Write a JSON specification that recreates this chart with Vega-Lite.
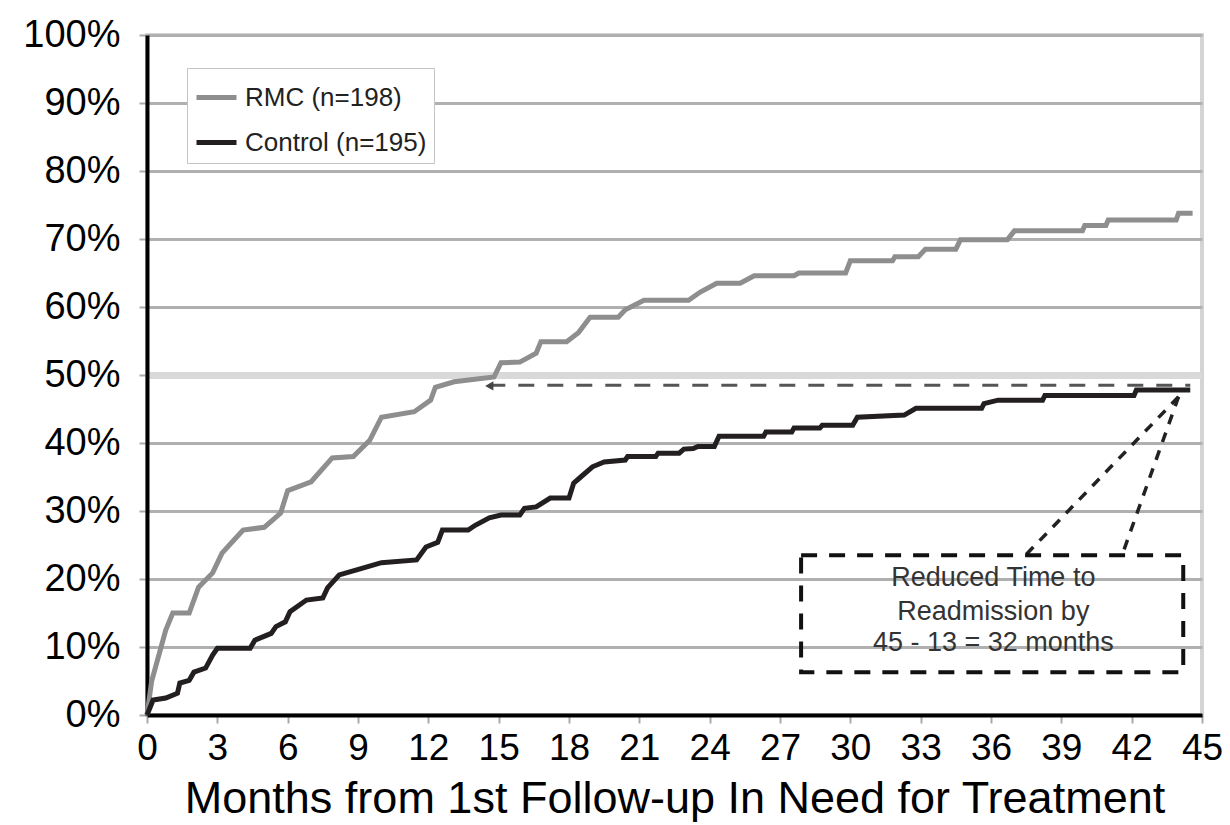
{
  "$schema": "https://vega.github.io/schema/vega-lite/v6.json",
  "width": 1055,
  "height": 680,
  "autosize": {"type": "none"},
  "padding": {"left": 147, "top": 35, "right": 28, "bottom": 110},
  "background": "white",
  "config": {
    "font": "Liberation Sans",
    "view": {"stroke": "#d4d4d4", "strokeWidth": 4}
  },
  "layer": [
    {
      "data": {"values": [
        {"group": "RMC (n=198)", "month": 0, "pct": 0},
        {"group": "RMC (n=198)", "month": 0.2, "pct": 5},
        {"group": "RMC (n=198)", "month": 0.8, "pct": 12.5},
        {"group": "RMC (n=198)", "month": 1.1, "pct": 15},
        {"group": "RMC (n=198)", "month": 1.8, "pct": 15},
        {"group": "RMC (n=198)", "month": 2.2, "pct": 18.8},
        {"group": "RMC (n=198)", "month": 2.8, "pct": 20.9},
        {"group": "RMC (n=198)", "month": 3.2, "pct": 23.8},
        {"group": "RMC (n=198)", "month": 3.7, "pct": 25.7},
        {"group": "RMC (n=198)", "month": 4.1, "pct": 27.2},
        {"group": "RMC (n=198)", "month": 5.0, "pct": 27.6},
        {"group": "RMC (n=198)", "month": 5.7, "pct": 29.7},
        {"group": "RMC (n=198)", "month": 6.0, "pct": 33},
        {"group": "RMC (n=198)", "month": 7.0, "pct": 34.3},
        {"group": "RMC (n=198)", "month": 7.9, "pct": 37.8},
        {"group": "RMC (n=198)", "month": 8.8, "pct": 38},
        {"group": "RMC (n=198)", "month": 9.5, "pct": 40.4},
        {"group": "RMC (n=198)", "month": 10.0, "pct": 43.8},
        {"group": "RMC (n=198)", "month": 11.4, "pct": 44.6},
        {"group": "RMC (n=198)", "month": 12.1, "pct": 46.3},
        {"group": "RMC (n=198)", "month": 12.3, "pct": 48.2},
        {"group": "RMC (n=198)", "month": 13.1, "pct": 49},
        {"group": "RMC (n=198)", "month": 14.8, "pct": 49.7},
        {"group": "RMC (n=198)", "month": 15.1, "pct": 51.8},
        {"group": "RMC (n=198)", "month": 15.9, "pct": 51.9},
        {"group": "RMC (n=198)", "month": 16.6, "pct": 53.2},
        {"group": "RMC (n=198)", "month": 16.8, "pct": 54.9},
        {"group": "RMC (n=198)", "month": 17.9, "pct": 54.9},
        {"group": "RMC (n=198)", "month": 18.4, "pct": 56.2},
        {"group": "RMC (n=198)", "month": 18.9, "pct": 58.5},
        {"group": "RMC (n=198)", "month": 20.1, "pct": 58.5},
        {"group": "RMC (n=198)", "month": 20.4, "pct": 59.6},
        {"group": "RMC (n=198)", "month": 21.2, "pct": 61},
        {"group": "RMC (n=198)", "month": 23.1, "pct": 61},
        {"group": "RMC (n=198)", "month": 23.6, "pct": 62.2},
        {"group": "RMC (n=198)", "month": 24.3, "pct": 63.5},
        {"group": "RMC (n=198)", "month": 25.3, "pct": 63.5},
        {"group": "RMC (n=198)", "month": 25.9, "pct": 64.6},
        {"group": "RMC (n=198)", "month": 27.6, "pct": 64.6},
        {"group": "RMC (n=198)", "month": 27.8, "pct": 65},
        {"group": "RMC (n=198)", "month": 29.8, "pct": 65},
        {"group": "RMC (n=198)", "month": 30.0, "pct": 66.8},
        {"group": "RMC (n=198)", "month": 31.8, "pct": 66.8},
        {"group": "RMC (n=198)", "month": 31.9, "pct": 67.4},
        {"group": "RMC (n=198)", "month": 32.9, "pct": 67.4},
        {"group": "RMC (n=198)", "month": 33.2, "pct": 68.5},
        {"group": "RMC (n=198)", "month": 34.5, "pct": 68.5},
        {"group": "RMC (n=198)", "month": 34.7, "pct": 69.9},
        {"group": "RMC (n=198)", "month": 36.7, "pct": 69.9},
        {"group": "RMC (n=198)", "month": 37.0, "pct": 71.2},
        {"group": "RMC (n=198)", "month": 39.9, "pct": 71.2},
        {"group": "RMC (n=198)", "month": 40.0, "pct": 72.0},
        {"group": "RMC (n=198)", "month": 40.9, "pct": 72.0},
        {"group": "RMC (n=198)", "month": 41.0, "pct": 72.8},
        {"group": "RMC (n=198)", "month": 43.9, "pct": 72.8},
        {"group": "RMC (n=198)", "month": 44.0, "pct": 73.8},
        {"group": "RMC (n=198)", "month": 44.6, "pct": 73.8},
        {"group": "Control (n=195)", "month": 0, "pct": 0},
        {"group": "Control (n=195)", "month": 0.26, "pct": 2.2},
        {"group": "Control (n=195)", "month": 0.8, "pct": 2.5},
        {"group": "Control (n=195)", "month": 1.3, "pct": 3.2},
        {"group": "Control (n=195)", "month": 1.4, "pct": 4.7},
        {"group": "Control (n=195)", "month": 1.8, "pct": 5.1},
        {"group": "Control (n=195)", "month": 2.0, "pct": 6.3},
        {"group": "Control (n=195)", "month": 2.5, "pct": 6.9},
        {"group": "Control (n=195)", "month": 2.8, "pct": 8.8},
        {"group": "Control (n=195)", "month": 3.0, "pct": 9.8},
        {"group": "Control (n=195)", "month": 4.4, "pct": 9.8},
        {"group": "Control (n=195)", "month": 4.6, "pct": 11},
        {"group": "Control (n=195)", "month": 5.3, "pct": 12},
        {"group": "Control (n=195)", "month": 5.5, "pct": 13},
        {"group": "Control (n=195)", "month": 5.9, "pct": 13.7},
        {"group": "Control (n=195)", "month": 6.1, "pct": 15.2},
        {"group": "Control (n=195)", "month": 6.8, "pct": 16.9},
        {"group": "Control (n=195)", "month": 7.5, "pct": 17.2},
        {"group": "Control (n=195)", "month": 7.7, "pct": 18.7},
        {"group": "Control (n=195)", "month": 8.2, "pct": 20.6},
        {"group": "Control (n=195)", "month": 9.2, "pct": 21.6},
        {"group": "Control (n=195)", "month": 10.0, "pct": 22.4},
        {"group": "Control (n=195)", "month": 11.5, "pct": 22.8},
        {"group": "Control (n=195)", "month": 11.9, "pct": 24.7},
        {"group": "Control (n=195)", "month": 12.4, "pct": 25.4},
        {"group": "Control (n=195)", "month": 12.6, "pct": 27.2},
        {"group": "Control (n=195)", "month": 13.7, "pct": 27.2},
        {"group": "Control (n=195)", "month": 14.0, "pct": 27.9},
        {"group": "Control (n=195)", "month": 14.6, "pct": 29},
        {"group": "Control (n=195)", "month": 15.1, "pct": 29.4},
        {"group": "Control (n=195)", "month": 15.9, "pct": 29.4},
        {"group": "Control (n=195)", "month": 16.1, "pct": 30.4},
        {"group": "Control (n=195)", "month": 16.6, "pct": 30.6},
        {"group": "Control (n=195)", "month": 17.2, "pct": 31.9},
        {"group": "Control (n=195)", "month": 18.0, "pct": 31.9},
        {"group": "Control (n=195)", "month": 18.2, "pct": 34.1},
        {"group": "Control (n=195)", "month": 18.5, "pct": 35},
        {"group": "Control (n=195)", "month": 19.0, "pct": 36.5},
        {"group": "Control (n=195)", "month": 19.5, "pct": 37.2},
        {"group": "Control (n=195)", "month": 20.4, "pct": 37.5},
        {"group": "Control (n=195)", "month": 20.5, "pct": 38},
        {"group": "Control (n=195)", "month": 21.7, "pct": 38},
        {"group": "Control (n=195)", "month": 21.8, "pct": 38.5},
        {"group": "Control (n=195)", "month": 22.7, "pct": 38.5},
        {"group": "Control (n=195)", "month": 22.9, "pct": 39.1},
        {"group": "Control (n=195)", "month": 23.3, "pct": 39.2},
        {"group": "Control (n=195)", "month": 23.5, "pct": 39.5},
        {"group": "Control (n=195)", "month": 24.2, "pct": 39.5},
        {"group": "Control (n=195)", "month": 24.4, "pct": 41},
        {"group": "Control (n=195)", "month": 26.3, "pct": 41},
        {"group": "Control (n=195)", "month": 26.4, "pct": 41.6},
        {"group": "Control (n=195)", "month": 27.5, "pct": 41.6},
        {"group": "Control (n=195)", "month": 27.6, "pct": 42.2},
        {"group": "Control (n=195)", "month": 28.7, "pct": 42.2},
        {"group": "Control (n=195)", "month": 28.8, "pct": 42.6},
        {"group": "Control (n=195)", "month": 30.1, "pct": 42.6},
        {"group": "Control (n=195)", "month": 30.3, "pct": 43.8},
        {"group": "Control (n=195)", "month": 32.3, "pct": 44.1},
        {"group": "Control (n=195)", "month": 32.8, "pct": 45.1},
        {"group": "Control (n=195)", "month": 35.6, "pct": 45.1},
        {"group": "Control (n=195)", "month": 35.7, "pct": 45.8},
        {"group": "Control (n=195)", "month": 36.3, "pct": 46.3},
        {"group": "Control (n=195)", "month": 38.2, "pct": 46.3},
        {"group": "Control (n=195)", "month": 38.3, "pct": 47},
        {"group": "Control (n=195)", "month": 42.1, "pct": 47},
        {"group": "Control (n=195)", "month": 42.2, "pct": 47.8},
        {"group": "Control (n=195)", "month": 44.5, "pct": 47.8}
      ]},
      "mark": {"type": "line", "strokeWidth": 5},
      "encoding": {
        "x": {
          "field": "month", "type": "quantitative",
          "scale": {"domain": [0, 45], "nice": false, "zero": false},
          "axis": {
            "values": [0, 3, 6, 9, 12, 15, 18, 21, 24, 27, 30, 33, 36, 39, 42, 45],
            "title": "Months from 1st Follow-up In Need for Treatment",
            "titleFontSize": 45, "titleFontWeight": "normal", "titleColor": "#000",
            "labelFontSize": 37, "labelColor": "#000", "labelFlush": false,
            "domainColor": "#000", "domainWidth": 4,
            "tickColor": "#aaaaaa", "tickSize": 8, "tickWidth": 2,
            "labelPadding": 7, "titlePadding": 10, "grid": false
          }
        },
        "y": {
          "field": "pct", "type": "quantitative",
          "scale": {"domain": [0, 100], "nice": false},
          "axis": {
            "values": [0, 10, 20, 30, 40, 50, 60, 70, 80, 90, 100],
            "labelExpr": "datum.value + '%'",
            "title": null,
            "labelFontSize": 38, "labelColor": "#000", "labelFlush": false,
            "domainColor": "#000", "domainWidth": 4,
            "tickColor": "#aaaaaa", "tickSize": 8, "tickWidth": 2,
            "labelPadding": 19, "grid": true,
            "gridColor": {"condition": {"test": "datum.value === 50", "value": "#d9d9d9"}, "value": "#b0b0b0"},
            "gridWidth": {"condition": {"test": "datum.value === 50", "value": 7}, "value": 3}
          }
        },
        "color": {
          "field": "group", "type": "nominal",
          "scale": {"domain": ["RMC (n=198)", "Control (n=195)"], "range": ["#8e8e8e", "#231f20"]},
          "legend": {
            "orient": "none", "legendX": 40, "legendY": 33, "title": null,
            "symbolType": "stroke", "symbolSize": 1600, "symbolStrokeWidth": 5,
            "labelFontSize": 26, "labelColor": "#222", "labelOffset": 6, "labelLimit": 0,
            "rowPadding": 9, "padding": 7,
            "strokeColor": "#c4c4c4", "fillColor": "white",
            "direction": "vertical"
          }
        }
      }
    },
    {
      "data": {"values": [{"month": 14.6, "month2": 44.5, "pct": 48.5}]},
      "mark": {"type": "rule", "color": "#555555", "strokeWidth": 3, "strokeDash": [16, 13]},
      "encoding": {
        "x": {"field": "month", "type": "quantitative"},
        "x2": {"field": "month2"},
        "y": {"field": "pct", "type": "quantitative"}
      }
    },
    {
      "data": {"values": [{"month": 14.6, "pct": 48.4}]},
      "mark": {"type": "point", "shape": "triangle-left", "filled": true, "size": 90, "color": "#444444", "opacity": 1},
      "encoding": {
        "x": {"field": "month", "type": "quantitative"},
        "y": {"field": "pct", "type": "quantitative"}
      }
    },
    {
      "data": {"values": [
        {"month": 44.0, "pct": 46.8, "month2": 37.5, "pct2": 23.6},
        {"month": 44.0, "pct": 46.8, "month2": 41.6, "pct2": 23.6}
      ]},
      "mark": {"type": "rule", "color": "#222222", "strokeWidth": 3.5, "strokeDash": [10, 9]},
      "encoding": {
        "x": {"field": "month", "type": "quantitative"},
        "y": {"field": "pct", "type": "quantitative"},
        "x2": {"field": "month2"},
        "y2": {"field": "pct2"}
      }
    },
    {
      "data": {"values": [{"month": 27.9, "month2": 44.2, "pct": 6.3, "pct2": 23.5}]},
      "mark": {"type": "rect", "fill": "white", "fillOpacity": 0, "stroke": "#111111", "strokeWidth": 4, "strokeDash": [16, 12]},
      "encoding": {
        "x": {"field": "month", "type": "quantitative"},
        "x2": {"field": "month2"},
        "y": {"field": "pct", "type": "quantitative"},
        "y2": {"field": "pct2"}
      }
    },
    {
      "data": {"values": [
        {"month": 36.1, "pct": 20.1, "label": "Reduced Time to"},
        {"month": 36.1, "pct": 15.1, "label": "Readmission by"},
        {"month": 36.1, "pct": 10.6, "label": "45 - 13 = 32 months"}
      ]},
      "mark": {"type": "text", "fontSize": 27, "color": "#333333", "align": "center", "baseline": "middle"},
      "encoding": {
        "x": {"field": "month", "type": "quantitative"},
        "y": {"field": "pct", "type": "quantitative"},
        "text": {"field": "label"}
      }
    }
  ]
}
